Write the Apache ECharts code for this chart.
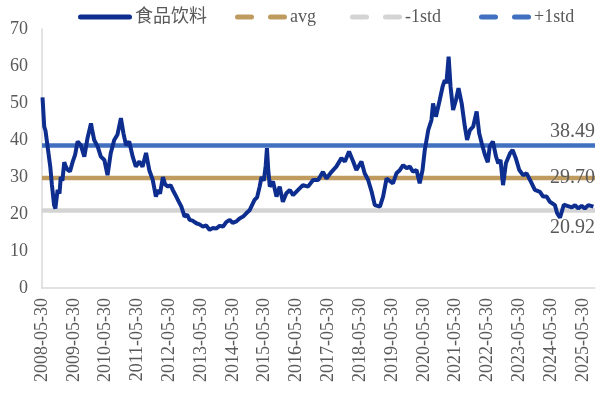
<!DOCTYPE html>
<html><head><meta charset="utf-8">
<script src="https://cdn.jsdelivr.net/npm/echarts@6/dist/echarts.min.js"></script>
<style>html,body{margin:0;padding:0;background:#fff}#c{width:603px;height:393px}</style>
</head><body><div id="c"></div>
<script>
// years since 2008-05-30
const tYears = [
0.016,0.07,0.11,0.17,0.26,0.31,0.38,0.42,0.49,0.55,
0.59,0.64,0.70,0.74,0.80,0.88,0.96,1.04,1.12,1.22,
1.33,1.43,1.54,1.57,1.64,1.75,1.85,1.96,2.06,2.16,
2.27,2.37,2.48,2.56,2.64,2.74,2.85,2.95,3.06,3.16,
3.27,3.37,3.48,3.58,3.64,3.71,3.80,3.87,3.96,4.04,
4.11,4.22,4.29,4.38,4.48,4.56,4.64,4.73,4.85,4.95,
5.06,5.16,5.27,5.36,5.48,5.58,5.69,5.79,5.90,5.99,
6.11,6.21,6.32,6.42,6.53,6.68,6.76,6.84,6.90,6.97,
7.03,7.07,7.11,7.16,7.26,7.37,7.47,7.57,7.68,7.79,
7.89,8.05,8.20,8.36,8.52,8.68,8.83,8.94,9.10,9.25,
9.41,9.52,9.65,9.78,9.88,10.04,10.14,10.25,10.36,10.46,
10.62,10.72,10.83,10.88,11.03,11.14,11.25,11.35,11.46,11.56,
11.66,11.77,11.87,11.96,12.03,12.14,12.24,12.29,12.38,12.50,
12.59,12.66,12.71,12.78,12.84,12.92,13.01,13.09,13.19,13.29,
13.36,13.45,13.55,13.66,13.74,13.82,13.92,14.01,14.07,14.17,
14.27,14.34,14.41,14.49,14.58,14.71,14.79,14.89,15.00,15.12,
15.23,15.36,15.49,15.65,15.75,15.86,15.96,16.12,16.19,16.28,
16.34,16.40,16.51,16.65,16.75,16.85,16.96,17.06,17.17,17.33
];
const peValues = [
51.5,43.6,42.5,42.7,32.8,28,22.4,21.5,26.5,25.5,
30,29,34,33,32,31.5,34,36,39.6,38.6,
35.5,40.5,44.5,43,40,38.2,35.5,34.6,30.5,36.4,
40,41.4,45.9,41.8,38.6,39.6,35.5,32.8,34.2,32.8,
36.5,31.9,29.2,24.7,26.5,25.5,30,28,27.4,27.8,
26.5,24.7,23.5,22,19.3,19.8,18.4,18.2,17.5,17.2,
16.6,16.9,15.7,16.2,16.1,16.8,16.6,17.8,18.4,17.6,
18.0,18.8,19.3,20.2,21.1,23.8,24.5,27.4,30,29,
33,37.8,32,27.4,28.8,24.7,27.4,23.3,25.6,26.5,
25.1,26.5,27.8,27.4,29.2,29.2,31.4,29.6,31.4,32.8,
35.1,34.2,36.9,34.2,31.9,34.2,31,29.2,26,22.4,
22,24.7,29.6,29.2,28.3,31,31.9,33.2,32.4,32.8,
31.4,31.9,28.3,31.9,37.3,42.7,45.4,49.9,46.3,50.8,
54.4,56.2,55.3,62.5,54.4,48.1,50.8,54,49.9,43.6,
40,42.7,43.6,47.7,41.8,39.1,36,34,38.2,39.6,
35.5,33.7,34.6,27.8,33.7,36.4,37.3,35.1,31.9,30.5,
31,28.8,26.5,26,24.7,24.7,23.3,22.4,20.2,19,
18.5,22.5,22.2,21.8,22.4,21.5,22.2,21.5,22.4,22
];
const avgValue = 29.70;
const minus1std = 20.92;
const plus1std = 38.49;
const xTickLabels = ['2008-05-30','2009-05-30','2010-05-30','2011-05-30','2012-05-30','2013-05-30',
'2014-05-30','2015-05-30','2016-05-30','2017-05-30','2018-05-30','2019-05-30','2020-05-30',
'2021-05-30','2022-05-30','2023-05-30','2024-05-30','2025-05-30'];
const seriesNames = ['食品饮料','avg','-1std','+1std'];
const seriesColors = ['#0D2D8F','#BF9B60','#D4D4D4','#4170C0'];
const xMax = 17.38;

const FONT = '"Liberation Serif","Noto Sans CJK SC",serif';
const TXT = '#595959';
const mainData = tYears.map((t,i)=>[t, peValues[i]]);
function hline(v){ return [[0, v],[xMax, v]]; }

const chart = echarts.init(document.getElementById('c'), null, {renderer:'canvas'});
function leg(idx, left, dashed){
  const col = seriesColors[idx];
  return {data:[seriesNames[idx]], left:left, top:8, icon:'none', itemWidth:0, itemHeight:14,
    itemGap:0, padding:0,
    formatter:(n)=> dashed ? '{d| }{g| }{d| }{t|' + n + '}' : '{s| }{t|' + n + '}',
    textStyle:{fontFamily:FONT, fontSize:18, color:TXT,
      rich:{
        d:{width:19, height:5, backgroundColor:col, borderRadius:2.5},
        s:{width:54, height:5, backgroundColor:col, borderRadius:2.5},
        g:{width:14, height:5},
        t:{fontFamily:FONT, fontSize:18, color:TXT, padding:[0,0,0,3]}
      }}};
}
function endLab(v, dy){
  return {show:true, formatter:v.toFixed(2), color:TXT, fontFamily:FONT, fontSize:20,
    align:'right', verticalAlign:'middle', distance:0, offset:[0, dy]};
}
chart.setOption({
  animation:false,
  backgroundColor:'#fff',
  grid:{left:42, right:8, top:29, bottom:105, containLabel:false},
  legend:[ leg(0, 73, false), leg(1, 230, true), leg(2, 345, true), leg(3, 474, true) ],
  xAxis:{type:'value', min:0, max:xMax, interval:1,
    axisLine:{show:true, lineStyle:{color:'#D9D9D9', width:1.5}},
    axisTick:{show:false}, splitLine:{show:false},
    axisLabel:{rotate:90, margin:10, color:TXT, fontFamily:FONT, fontSize:18,
      showMaxLabel:false,
      formatter:(v)=>{const r=Math.round(v); return Math.abs(v-r)<1e-6 && xTickLabels[r] ? xTickLabels[r] : '';}}
  },
  yAxis:{type:'value', min:0, max:70, interval:10,
    axisLine:{show:true, lineStyle:{color:'#D9D9D9', width:1.5}},
    axisTick:{show:false}, splitLine:{show:false},
    axisLabel:{margin:14, color:TXT, fontFamily:FONT, fontSize:18}
  },
  series:[
    {name:seriesNames[0], type:'line', data:mainData, showSymbol:false, z:5,
      lineStyle:{color:seriesColors[0], width:4}, itemStyle:{color:seriesColors[0]}},
    {name:seriesNames[1], type:'line', data:hline(avgValue), showSymbol:false, z:3,
      lineStyle:{color:seriesColors[1], width:4.5}, itemStyle:{color:seriesColors[1]},
      endLabel:endLab(avgValue, 0)},
    {name:seriesNames[2], type:'line', data:hline(minus1std), showSymbol:false, z:3,
      lineStyle:{color:seriesColors[2], width:4.5}, itemStyle:{color:seriesColors[2]},
      endLabel:endLab(minus1std, 17)},
    {name:seriesNames[3], type:'line', data:hline(plus1std), showSymbol:false, z:3,
      lineStyle:{color:seriesColors[3], width:4.5}, itemStyle:{color:seriesColors[3]},
      endLabel:endLab(plus1std, -14)}
  ]
});
</script></body></html>
